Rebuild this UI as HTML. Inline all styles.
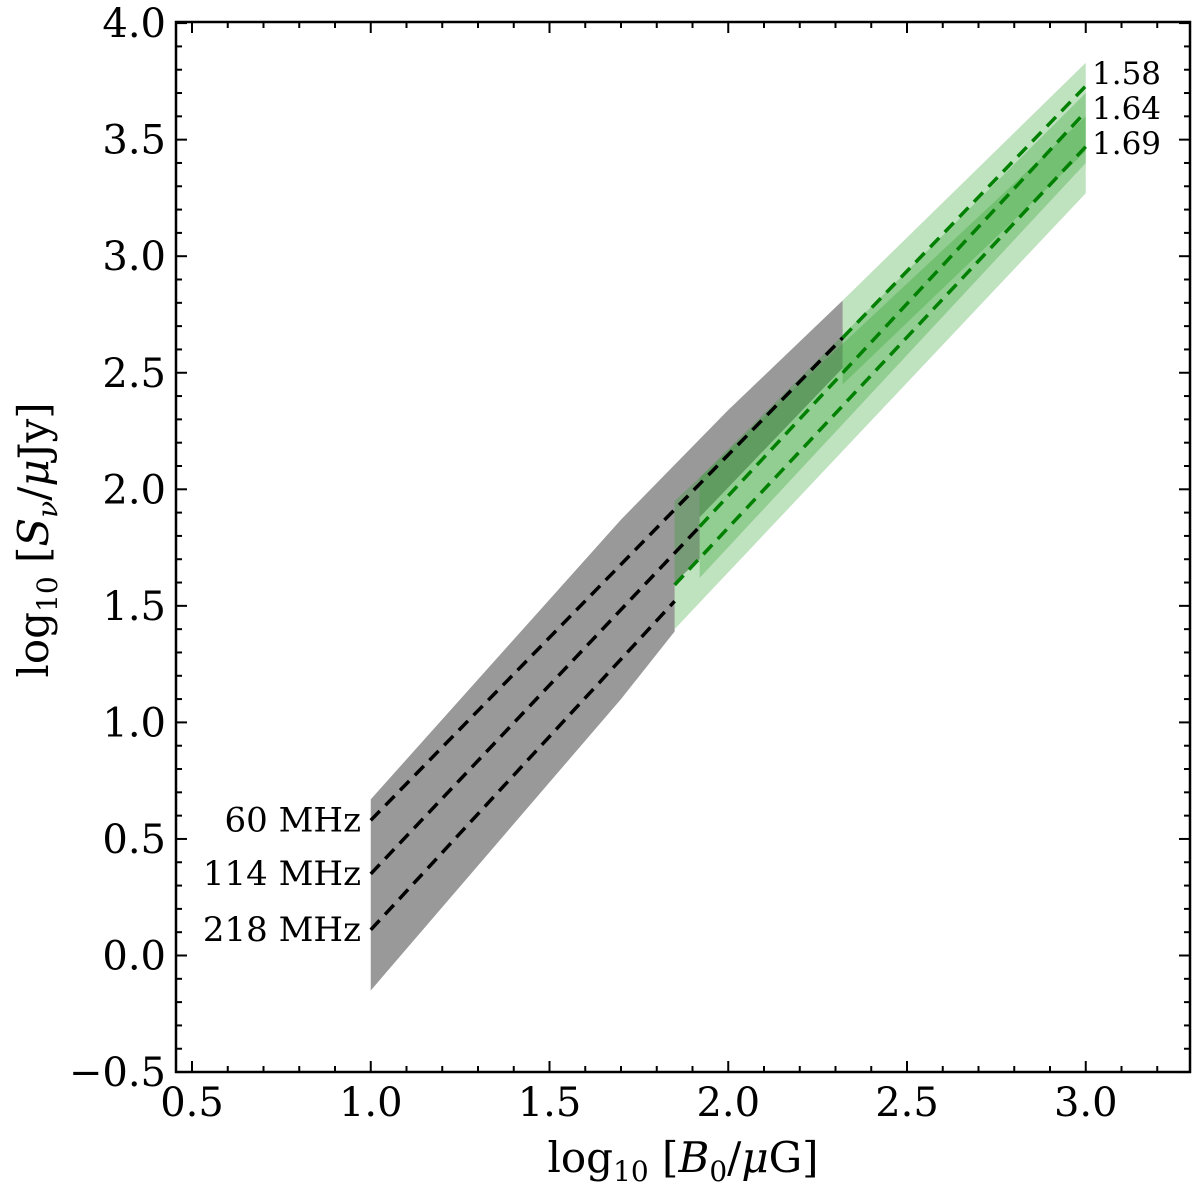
<!DOCTYPE html>
<html><head><meta charset="utf-8"><style>
body{margin:0;background:#fff}
svg text{font-family:"DejaVu Serif","Liberation Serif",serif;fill:#000}
</style></head><body>
<svg id="chart" width="1200" height="1190" xmlns="http://www.w3.org/2000/svg">
<g id="plot"></g>
<g id="axes"></g>
<text x="683" y="1172" font-size="42" text-anchor="middle">log<tspan font-size="28" dy="9">10</tspan><tspan dy="-9"> [</tspan><tspan font-style="italic">B</tspan><tspan font-size="28" dy="9">0</tspan><tspan dy="-9">/</tspan><tspan font-style="italic">μ</tspan>G]</text>
<text transform="translate(48,540) rotate(-90)" font-size="42" text-anchor="middle">log<tspan font-size="28" dy="9">10</tspan><tspan dy="-9"> [</tspan><tspan font-style="italic">S</tspan><tspan font-size="28" font-style="italic" dy="9">ν</tspan><tspan dy="-9">/</tspan><tspan font-style="italic">μ</tspan>Jy]</text>
</svg>
<script>
const xTicks=[0.5,1.0,1.5,2.0,2.5,3.0];
const yTicks=[-0.5,0.0,0.5,1.0,1.5,2.0,2.5,3.0,3.5,4.0];
const freqLabels=["60 MHz","114 MHz","218 MHz"];
const slopeLabels=["1.58","1.64","1.69"];
const grayX=[1.0,1.7,2.0,2.32,2.32,1.92,1.92,1.85,1.85,1.7,1.0];
const grayY=[0.67,1.87,2.34,2.81,2.52,1.88,1.70,1.60,1.39,1.1,-0.15];
const band1X=[1.85,3.0,3.0,1.85];const band1Y=[1.40,3.27,3.60,1.95];
const band2X=[1.92,3.0,3.0,1.92];const band2Y=[1.62,3.40,3.70,2.05];
const band3X=[2.32,3.0,3.0,2.32];const band3Y=[2.45,3.45,3.83,2.81];
const blackX=[[1.0,2.32],[1.0,1.92],[1.0,1.85]];
const blackY=[[0.58,2.65],[0.35,1.84],[0.11,1.52]];
const greenX=[[2.32,3.0],[1.92,3.0],[1.85,3.0]];
const greenY=[[2.65,3.73],[1.84,3.62],[1.59,3.47]];
const L=176,R=1190,T=22,B=1072;
const X=v=>192+(v-0.5)*357.5;
const Y=v=>955.5-v*233.1;
const NS="http://www.w3.org/2000/svg";
const plot=document.getElementById('plot'),axes=document.getElementById('axes');
function mk(t,p,a){const e=document.createElementNS(NS,t);for(const k in a)e.setAttribute(k,a[k]);p.appendChild(e);return e;}
function poly(xs,ys){return xs.map((x,i)=>X(x)+','+Y(ys[i])).join(' ');}
let g=mk('polygon',plot,{points:poly(grayX,grayY),fill:'#999'});


[[band1X,band1Y],[band2X,band2Y],[band3X,band3Y]].forEach((b,i)=>{
 const p=mk('polygon',plot,{points:poly(b[0],b[1]),fill:'rgb(44,160,44)','fill-opacity':0.3});
 
 
});
blackX.forEach((xs,i)=>{
 const l=mk('polyline',plot,{points:poly(xs,blackY[i]),fill:'none',stroke:'#000','stroke-width':3.5,'stroke-dasharray':'13,8'});
 
 
});
greenX.forEach((xs,i)=>{
 const l=mk('polyline',plot,{points:poly(xs,greenY[i]),fill:'none',stroke:'#008000','stroke-width':3.5,'stroke-dasharray':'13,8'});
 
 
});
freqLabels.forEach((s,i)=>{
 const t=mk('text',plot,{x:361,y:Y(blackY[i][0])+11,'font-size':34,'text-anchor':'end'});t.textContent=s;
 
 
});
const sy=[73,108,143];
slopeLabels.forEach((s,i)=>{
 const t=mk('text',plot,{x:1092,y:sy[i]+11,'font-size':31});t.textContent=s;
 
 
});
const fr=mk('rect',axes,{x:L,y:T,width:R-L,height:B-T,fill:'none',stroke:'#000','stroke-width':2.5});


for(let k=5;k<=32;k++){const v=k/10,x=X(v);if(x<L||x>R)continue;const len=(k%5===0)?11:6;
 mk('line',axes,{x1:x,x2:x,y1:B,y2:B-len,stroke:'#000','stroke-width':2});
 mk('line',axes,{x1:x,x2:x,y1:T,y2:T+len,stroke:'#000','stroke-width':2});}
for(let k=-5;k<=40;k++){const v=k/10,y=Y(v);const len=(k%5===0)?11:6;
 mk('line',axes,{x1:L,x2:L+len,y1:y,y2:y,stroke:'#000','stroke-width':2});
 mk('line',axes,{x1:R,x2:R-len,y1:y,y2:y,stroke:'#000','stroke-width':2});}
xTicks.forEach(v=>{const t=mk('text',axes,{x:X(v),y:B+44,'font-size':40,'text-anchor':'middle'});t.textContent=v.toFixed(1);
 
 });
yTicks.forEach(v=>{const t=mk('text',axes,{x:L-10,y:Y(v)+14,'font-size':40,'text-anchor':'end'});t.textContent=(v<0?'\u2212':'')+Math.abs(v).toFixed(1);
 
 });
</script>
</body></html>
